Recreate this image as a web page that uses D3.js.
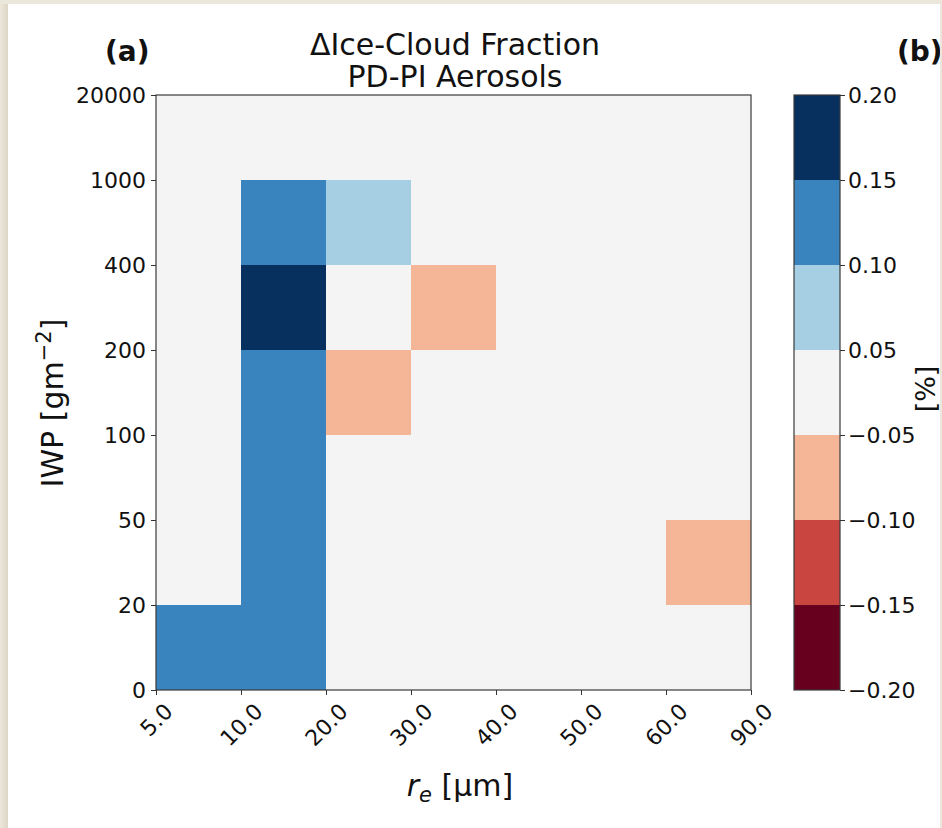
<!DOCTYPE html>
<html lang="en">
	<head>
		<meta charset="utf-8">
		<title>Ice-Cloud Fraction</title>
		<script type="text/javascript" src="https://cdn.jsdelivr.net/npm/d3@7"></script>
		<style type="text/css">
			html, body {
				margin: 0;
				padding: 0;
				background: #ece7db;
				font-family: "DejaVu Sans", sans-serif;
			}
			svg { display: block; }
		</style>
	</head>
	<body>
		<script type="text/javascript">

			// bin edges along each axis (tick labels)
			let reEdges = ["5.0", "10.0", "20.0", "30.0", "40.0", "50.0", "60.0", "90.0"];
			let iwpEdges = ["0", "20", "50", "100", "200", "400", "1000", "20000"];

			// colour levels of the colorbar
			let levels = [-0.20, -0.15, -0.10, -0.05, 0.05, 0.10, 0.15, 0.20];
			let levelColors = ["#67001f", "#c8463f", "#f5b698", "#f4f4f4", "#a7cfe4", "#3983be", "#07305f"];

			// change in ice-cloud fraction, rows from lowest IWP bin up, cols from smallest re
			let dIce = [
				[0.12, 0.12, 0, 0, 0, 0, 0],
				[0, 0.12, 0, 0, 0, 0, -0.07],
				[0, 0.12, 0, 0, 0, 0, 0],
				[0, 0.12, -0.07, 0, 0, 0, 0],
				[0, 0.18, 0, -0.07, 0, 0, 0],
				[0, 0.12, 0.07, 0, 0, 0, 0],
				[0, 0, 0, 0, 0, 0, 0]
			];

			let w = 942;
			let h = 828;
			let pLeft = 156, pRight = 751, pTop = 95, pBottom = 690;
			let cbLeft = 794, cbRight = 840;
			let tickFont = 22;

			let svg = d3.select("body")
						.append("svg")
						.attr("width", w)
						.attr("height", h);

			// white page with beige frame round it, shadow on the left
			let grad = svg.append("defs").append("linearGradient")
						.attr("id", "shade");
			grad.append("stop").attr("offset", "0%").attr("stop-color", "#ece7db");
			grad.append("stop").attr("offset", "100%").attr("stop-color", "#ddd6c6");

			svg.append("rect")
				.attr("x", 0)
				.attr("y", 0)
				.attr("width", 8)
				.attr("height", h)
				.attr("fill", "url(#shade)");

			svg.append("rect")
				.attr("x", 8)
				.attr("y", 4)
				.attr("width", 932)
				.attr("height", h - 4)
				.attr("fill", "white");

			let xScale = d3.scaleLinear()
							.domain([0, reEdges.length - 1])
							.range([pLeft, pRight]);

			let yScale = d3.scaleLinear()
							.domain([0, iwpEdges.length - 1])
							.range([pBottom, pTop]);

			let color = d3.scaleThreshold()
							.domain(levels.slice(1, -1))
							.range(levelColors);

			let cells = [];
			dIce.forEach((row, r) => {
				row.forEach((v, c) => {
					cells.push({r: r, c: c, v: v});
				});
			});

			svg.selectAll("rect.cell")
				.data(cells)
				.enter()
				.append("rect")
				.attr("class", "cell")
				.attr("x", (d) => xScale(d.c))
				.attr("y", (d) => yScale(d.r + 1))
				.attr("width", (d) => xScale(d.c + 1) - xScale(d.c))
				.attr("height", (d) => yScale(d.r) - yScale(d.r + 1))
				.attr("fill", (d) => color(d.v))
				.attr("shape-rendering", "crispEdges");

			// frame
			svg.append("rect")
				.attr("x", pLeft)
				.attr("y", pTop)
				.attr("width", pRight - pLeft)
				.attr("height", pBottom - pTop)
				.attr("fill", "none")
				.attr("stroke", "#3a3a3a")
				.attr("stroke-width", 1.2);

			let xAxis = d3.axisBottom(xScale)
							.tickValues(d3.range(reEdges.length))
							.tickFormat((i) => reEdges[i])
							.tickSize(5)
							.tickSizeOuter(0);

			let yAxis = d3.axisLeft(yScale)
							.tickValues(d3.range(iwpEdges.length))
							.tickFormat((i) => iwpEdges[i])
							.tickSize(5)
							.tickSizeOuter(0);

			let gx = svg.append("g")
						.attr("transform", "translate(0," + pBottom + ")")
						.call(xAxis);
			gx.select(".domain").remove();

			// rotated x tick labels, bbox centred on the tick
			gx.selectAll(".tick text")
				.attr("font-size", tickFont)
				.attr("font-family", "DejaVu Sans")
				.attr("fill", "#111")
				.attr("text-anchor", "middle")
				.attr("dominant-baseline", "central")
				.attr("dy", null)
				.attr("y", 0)
				.each(function () {
					let tw = this.getComputedTextLength();
					let off = 12 + (tw + 16) / (2 * Math.SQRT2);
					d3.select(this).attr("transform", "translate(0," + off + ") rotate(-45)");
				});

			let gy = svg.append("g")
						.attr("transform", "translate(" + pLeft + ",0)")
						.call(yAxis);
			gy.select(".domain").remove();
			gy.selectAll(".tick text")
				.attr("font-size", tickFont)
				.attr("font-family", "DejaVu Sans")
				.attr("fill", "#111")
				.attr("x", -10);

			svg.selectAll(".tick line").attr("stroke", "#333");

			// colorbar
			let cbScale = d3.scaleLinear()
							.domain([0, levels.length - 1])
							.range([pBottom, pTop]);

			svg.selectAll("rect.cb")
				.data(levelColors)
				.enter()
				.append("rect")
				.attr("class", "cb")
				.attr("x", cbLeft)
				.attr("y", (d, i) => cbScale(i + 1))
				.attr("width", cbRight - cbLeft)
				.attr("height", (d, i) => cbScale(i) - cbScale(i + 1))
				.attr("fill", (d) => d)
				.attr("shape-rendering", "crispEdges");

			svg.append("rect")
				.attr("x", cbLeft)
				.attr("y", pTop)
				.attr("width", cbRight - cbLeft)
				.attr("height", pBottom - pTop)
				.attr("fill", "none")
				.attr("stroke", "#3a3a3a")
				.attr("stroke-width", 1.2);

			let cbAxis = d3.axisRight(cbScale)
							.tickValues(d3.range(levels.length))
							.tickFormat((i) => d3.format(".2f")(levels[i]).replace("-", "\u2212"))
							.tickSize(5)
							.tickSizeOuter(0);

			let gc = svg.append("g")
						.attr("transform", "translate(" + cbRight + ",0)")
						.call(cbAxis);
			gc.select(".domain").remove();
			gc.selectAll(".tick text")
				.attr("font-size", tickFont)
				.attr("font-family", "DejaVu Sans")
				.attr("fill", "#111")
				.attr("x", 8);
			gc.selectAll(".tick line").attr("stroke", "#333");

			svg.append("text")
				.attr("transform", "translate(935,389) rotate(-90)")
				.attr("text-anchor", "middle")
				.attr("font-size", 27)
				.attr("fill", "#111")
				.text("[%]");

			// titles
			svg.append("text")
				.attr("x", 455)
				.attr("y", 55)
				.attr("text-anchor", "middle")
				.attr("font-size", 30)
				.attr("fill", "#111")
				.text("\u0394Ice-Cloud Fraction");

			svg.append("text")
				.attr("x", 455)
				.attr("y", 87)
				.attr("text-anchor", "middle")
				.attr("font-size", 30)
				.attr("fill", "#111")
				.text("PD-PI Aerosols");

			svg.append("text")
				.attr("x", 105)
				.attr("y", 61)
				.attr("font-size", 28)
				.attr("font-weight", "bold")
				.attr("fill", "#111")
				.text("(a)");

			svg.append("text")
				.attr("x", 897)
				.attr("y", 61)
				.attr("font-size", 28)
				.attr("font-weight", "bold")
				.attr("fill", "#111")
				.text("(b)");

			// axis labels
			let yl = svg.append("text")
						.attr("transform", "translate(63,403) rotate(-90)")
						.attr("text-anchor", "middle")
						.attr("font-size", 30)
						.attr("fill", "#111");
			yl.append("tspan").text("IWP [gm");
			yl.append("tspan").attr("dy", -12).attr("font-size", 21).text("\u22122");
			yl.append("tspan").attr("dy", 12).text("]");

			let xl = svg.append("text")
						.attr("x", 460)
						.attr("y", 796)
						.attr("text-anchor", "middle")
						.attr("font-size", 30)
						.attr("fill", "#111");
			xl.append("tspan").attr("font-style", "italic").text("r");
			xl.append("tspan").attr("font-style", "italic").attr("font-size", 21).attr("dy", 6).text("e");
			xl.append("tspan").attr("dy", -6).text(" [\u03bcm]");

			// beige strips along the right and top edges
			svg.append("rect")
				.attr("x", 940)
				.attr("y", 0)
				.attr("width", 2)
				.attr("height", h)
				.attr("fill", "#ece7db");

			svg.append("rect")
				.attr("x", 0)
				.attr("y", 0)
				.attr("width", w)
				.attr("height", 4)
				.attr("fill", "#ece7db");

		</script>
	</body>
</html>
